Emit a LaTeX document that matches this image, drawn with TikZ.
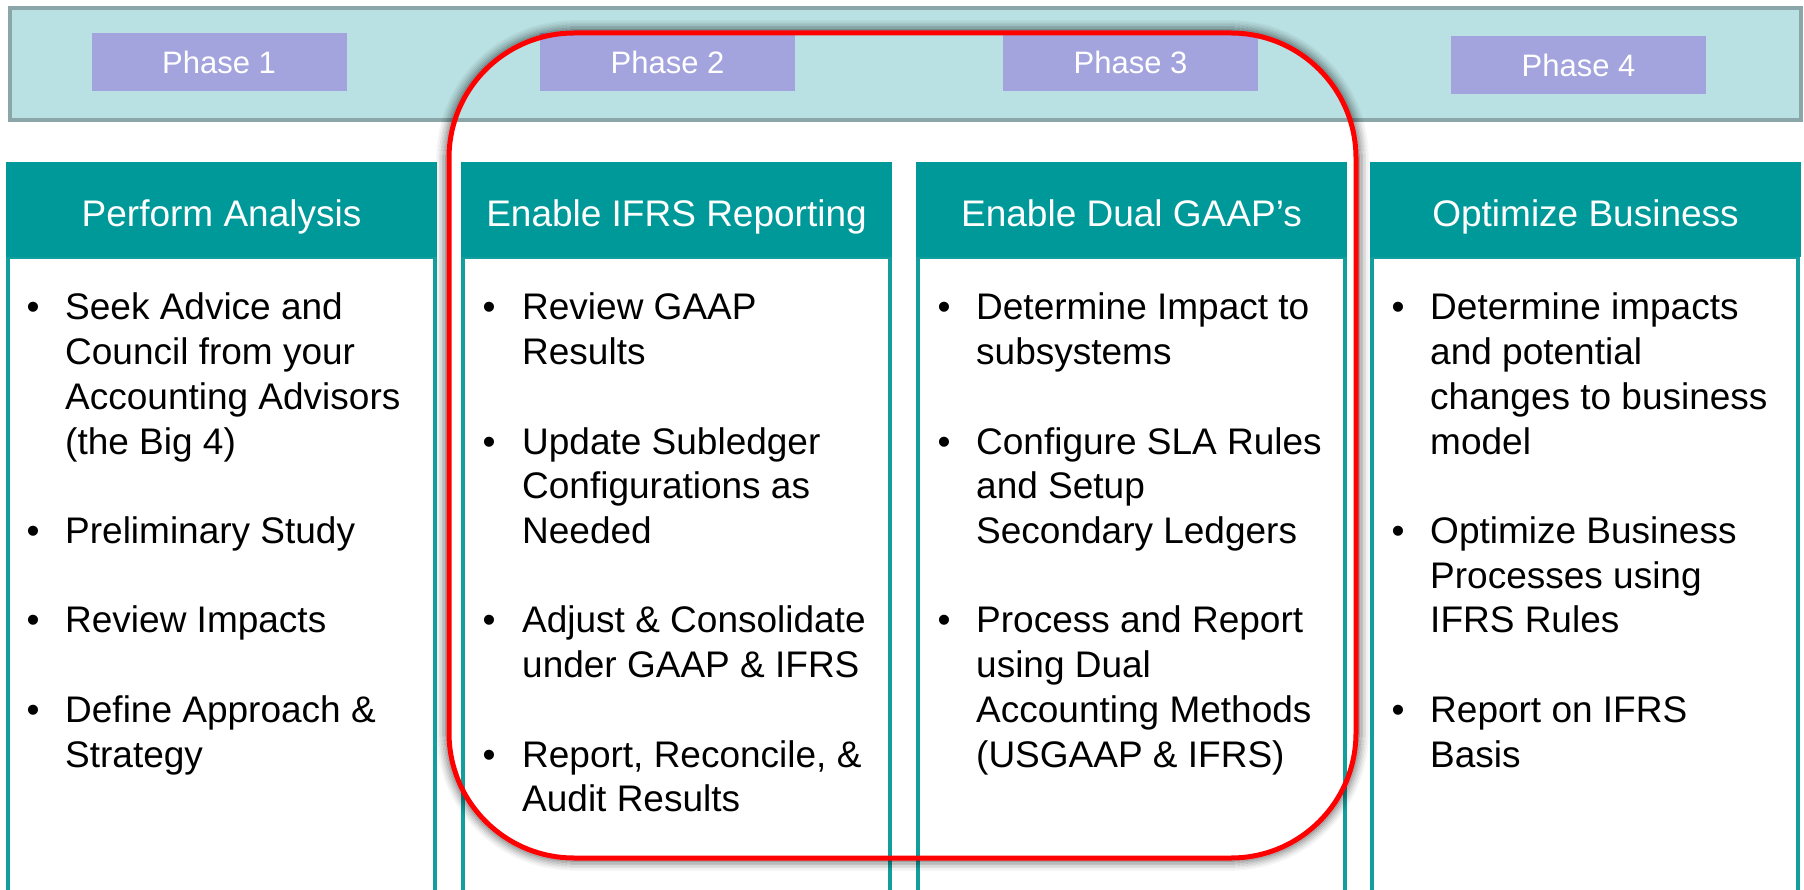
\documentclass[tikz,border=0pt]{standalone}
\usepackage{fontspec}
\setmainfont{Liberation Sans}
\definecolor{bandfill}{HTML}{B9E0E2}
\definecolor{bandline}{HTML}{8BA6A8}
\definecolor{phasefill}{HTML}{A3A3DE}
\definecolor{tealc}{HTML}{009999}
\definecolor{tealline}{HTML}{139E9E}
\definecolor{redc}{HTML}{FF0000}
\begin{document}
\begin{tikzpicture}[x=1pt,y=-1pt,
  phasebox/.style={fill=phasefill, draw=none, minimum width=255pt, minimum height=58pt,
    inner sep=0pt, text=white, font=\fontsize{31}{36}\selectfont, text height=24pt, text depth=0pt},
  headbox/.style={fill=tealc, draw=none, minimum width=431pt, minimum height=95pt,
    inner sep=0pt, text=white, font=\fontsize{37}{44}\selectfont, text height=35pt, text depth=0pt},
  bodybox/.style={draw=tealline, line width=4pt, fill=white},
  bodytext/.style={anchor=base west, inner sep=0pt, font=\fontsize{37}{44.7}\selectfont, text=black},
  bul/.style={anchor=base, inner sep=0pt, font=\fontsize{37}{44.7}\selectfont, text=black},
  redframe/.style={draw=redc, line width=5pt, rounded corners=125pt}
]
\useasboundingbox (0,0) rectangle (1804,890);
\fill[white] (0,0) rectangle (1804,890);

% top band
\node[draw=bandline, fill=bandfill, line width=4pt, minimum width=1791pt, minimum height=112pt,
  inner sep=0pt, anchor=north west] (band) at (8,6) {};

% phases
\node[phasebox] (p1) at (219,62) {Phase 1};
\node[phasebox] (p2) at (667.5,62) {Phase 2};
\node[phasebox] (p3) at (1130.5,62) {Phase 3};
\node[phasebox] (p4) at (1578.5,65) {Phase 4};

% columns: bodies
\draw[bodybox] (8,257) rectangle (435,900);
\draw[bodybox] (463,257) rectangle (890,900);
\draw[bodybox] (918,257) rectangle (1345,900);
\draw[bodybox] (1372,257) rectangle (1798,900);

% headers
\node[headbox] (h1) at (221.5,209.5) {Perform Analysis};
\node[headbox] (h2) at (676.5,209.5) {Enable IFRS Reporting};
\node[headbox] (h3) at (1131.5,209.5) {Enable Dual GAAP’s};
\node[headbox] (h4) at (1585.5,209.5) {Optimize Business};

% column 1
\node[bul] (b11) at (33,320) {•};
\node[bodytext] (t11a) at (65,320) {Seek Advice and};
\node[bodytext] (t11b) at (65,364.7) {Council from your};
\node[bodytext] (t11c) at (65,409.4) {Accounting Advisors};
\node[bodytext] (t11d) at (65,454.1) {(the Big 4)};
\node[bul] (b12) at (33,543.5) {•};
\node[bodytext] (t12a) at (65,543.5) {Preliminary Study};
\node[bul] (b13) at (33,632.9) {•};
\node[bodytext] (t13a) at (65,632.9) {Review Impacts};
\node[bul] (b14) at (33,722.3) {•};
\node[bodytext] (t14a) at (65,722.3) {Define Approach \&};
\node[bodytext] (t14b) at (65,767) {Strategy};

% column 2
\node[bul] (b21) at (489,320) {•};
\node[bodytext] (t21a) at (522,320) {Review GAAP};
\node[bodytext] (t21b) at (522,364.7) {Results};
\node[bul] (b22) at (489,454.1) {•};
\node[bodytext] (t22a) at (522,454.1) {Update Subledger};
\node[bodytext] (t22b) at (522,498.8) {Configurations as};
\node[bodytext] (t22c) at (522,543.5) {Needed};
\node[bul] (b23) at (489,632.9) {•};
\node[bodytext] (t23a) at (522,632.9) {Adjust \& Consolidate};
\node[bodytext] (t23b) at (522,677.6) {under GAAP \& IFRS};
\node[bul] (b24) at (489,767) {•};
\node[bodytext] (t24a) at (522,767) {Report, Reconcile, \&};
\node[bodytext] (t24b) at (522,811.7) {Audit Results};

% column 3
\node[bul] (b31) at (944,320) {•};
\node[bodytext] (t31a) at (976,320) {Determine Impact to};
\node[bodytext] (t31b) at (976,364.7) {subsystems};
\node[bul] (b32) at (944,454.1) {•};
\node[bodytext] (t32a) at (976,454.1) {Configure SLA Rules};
\node[bodytext] (t32b) at (976,498.8) {and Setup};
\node[bodytext] (t32c) at (976,543.5) {Secondary Ledgers};
\node[bul] (b33) at (944,632.9) {•};
\node[bodytext] (t33a) at (976,632.9) {Process and Report};
\node[bodytext] (t33b) at (976,677.6) {using Dual};
\node[bodytext] (t33c) at (976,722.3) {Accounting Methods};
\node[bodytext] (t33d) at (976,767) {(USGAAP \& IFRS)};

% column 4
\node[bul] (b41) at (1398,320) {•};
\node[bodytext] (t41a) at (1430,320) {Determine impacts};
\node[bodytext] (t41b) at (1430,364.7) {and potential};
\node[bodytext] (t41c) at (1430,409.4) {changes to business};
\node[bodytext] (t41d) at (1430,454.1) {model};
\node[bul] (b42) at (1398,543.5) {•};
\node[bodytext] (t42a) at (1430,543.5) {Optimize Business};
\node[bodytext] (t42b) at (1430,588.2) {Processes using};
\node[bodytext] (t42c) at (1430,632.9) {IFRS Rules};
\node[bul] (b43) at (1398,722.3) {•};
\node[bodytext] (t43a) at (1430,722.3) {Report on IFRS};
\node[bodytext] (t43b) at (1430,767) {Basis};

% red frame shadow (outer glow)
\foreach \d/\o in {3/0.32,4.5/0.26,6/0.20,7.5/0.15,9/0.10,10.5/0.06,12/0.03}{
  \pgfmathsetmacro\rr{125+\d}
  \draw[black, opacity=\o, line width=1.6pt, rounded corners=\rr pt]
    ({449-\d},{33-\d}) rectangle ({1356+\d},{858+\d});
}
% red frame
\draw[redframe] (449,33) rectangle (1356,858);
\end{tikzpicture}
\end{document}
